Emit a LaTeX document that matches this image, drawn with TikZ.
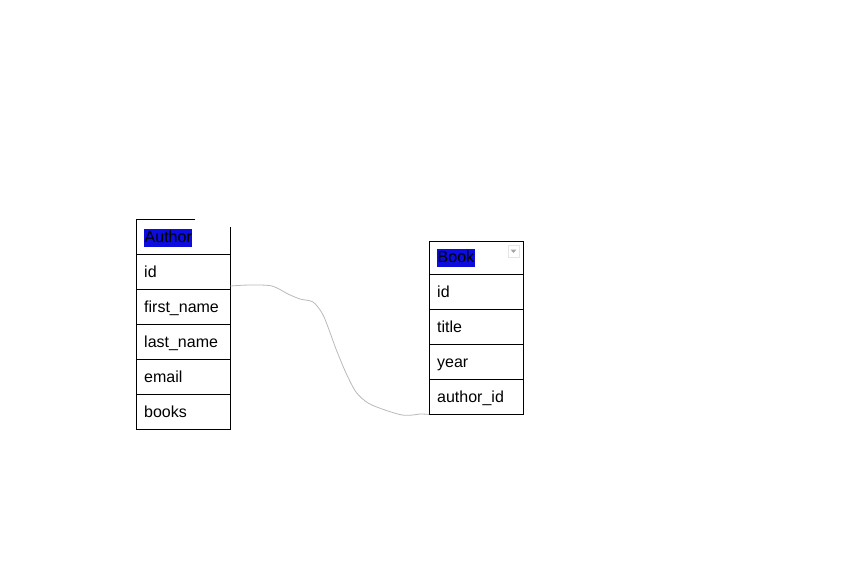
\documentclass[tikz,border=0pt]{standalone}
\usepackage{fontspec}
\setmainfont{Liberation Sans}
\usetikzlibrary{positioning}
\definecolor{hlblue}{RGB}{12,12,222}
\definecolor{wire}{RGB}{185,185,185}
\tikzstyle{cell} = [draw, thin, anchor=north west, minimum width=94pt, minimum height=35pt,
  text width=78pt, text height=13.5pt, text depth=1.5pt, inner xsep=8pt, inner ysep=0pt,
  align=left, font=\fontsize{16}{19}\selectfont]
\tikzstyle{head} = [fill=hlblue, text=black, inner sep=0.5pt, text height=13pt, text depth=4.5pt,
  font=\fontsize{16}{19}\selectfont]

\begin{document}
\begin{tikzpicture}[x=1pt,y=-1pt]

	\useasboundingbox (0,0) rectangle (850,567);

	% Author table
	\draw[thin] (195,219) -- (136,219) -- (136,254);
	\draw[thin] (230,227) -- (230,254);
	\node[head, anchor=west] (authorhead) at (144,238) {Author};
	\foreach \r/\t in {0/id, 1/first\_name, 2/last\_name, 3/email, 4/books}
		\node[cell] (author-\r) at (136, 254+35*\r) {\t};

	% Book table
	\draw[thin] (429,241) rectangle (523,274);
	\node[head, anchor=west] (bookhead) at (437,258) {Book};
	\draw[black!10] (508,245) rectangle (519,257);
	\fill[black!35] (510.5,249.5) -- (516.5,249.5) -- (513.5,253) -- cycle;
	\foreach \r/\t in {0/id, 1/title, 2/year, 3/author\_id}
		\node[cell] (book-\r) at (429, 274+35*\r) {\t};

	% relation
	\coordinate (src) at (author-0.east |- 0,286);
	\coordinate (dst) at (book-3.south west);
	\draw[wire, line width=0.8pt] plot[smooth, tension=0.5] coordinates {(src) (250,285) (272,286) (288,294)
		(300,299) (313,302) (322,313) (328,327) (336,349) (346,373) (356,392) (368,403)
		(385,410) (402,415) (413,415) (420,414) (dst)};

\end{tikzpicture}
\end{document}
